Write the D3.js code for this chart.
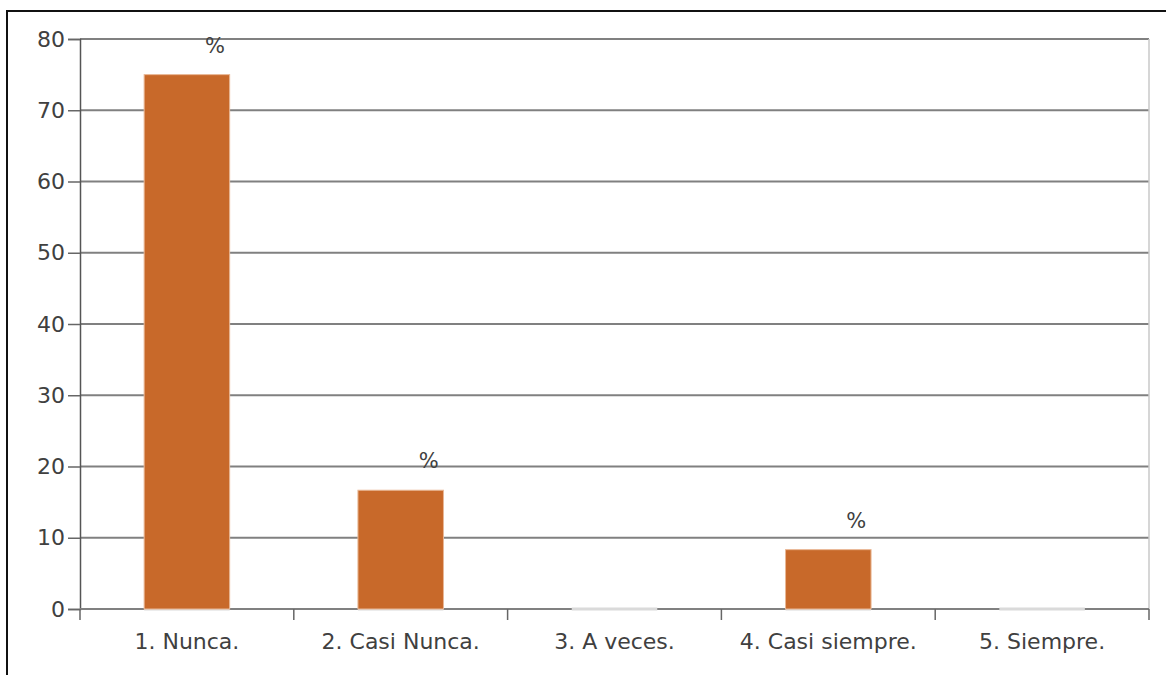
<!DOCTYPE html>
<html>
<head>
<meta charset="utf-8">
<script src="https://cdn.jsdelivr.net/npm/d3@7"></script>
<style>
  html, body { margin: 0; padding: 0; background: #fff; }
  svg text { font-family: "DejaVu Sans", sans-serif; fill: #404040; }
</style>
</head>
<body>
<svg id="chart" width="1166" height="675"></svg>
<script>
// Survey answers (percentage of respondents)
const categories = ["1. Nunca.", "2. Casi Nunca.", "3. A veces.", "4. Casi siempre.", "5. Siempre."];
const percentages = [75, 16.67, 0, 8.33, 0];
const yTicks = [0, 10, 20, 30, 40, 50, 60, 70, 80];
const valueLabel = "%";

const svg = d3.select("#chart");
const W = 1166, H = 675;
const margin = { top: 39, right: 17, bottom: 66, left: 80 };
const innerW = W - margin.left - margin.right;
const innerH = H - margin.top - margin.bottom;

// outer frame (left and top edges)
svg.append("path")
  .attr("d", `M7,${H} L7,11 L${W},11`)
  .attr("fill", "none").attr("stroke", "#111").attr("stroke-width", 2);

const g = svg.append("g").attr("transform", `translate(${margin.left},${margin.top})`);

const x = d3.scaleBand().domain(categories).range([0, innerW]).paddingInner(0.6).paddingOuter(0.3);
const xOuter = d3.scaleBand().domain(categories).range([0, innerW]);
const y = d3.scaleLinear().domain([0, 80]).range([innerH, 0]);

// horizontal gridlines
g.append("g").selectAll("line").data(yTicks.filter(t => t > 0)).join("line")
  .attr("x1", 0).attr("x2", innerW)
  .attr("y1", d => y(d)).attr("y2", d => y(d))
  .attr("stroke", "#808080").attr("stroke-width", 2);

// right border of plot area
g.append("line")
  .attr("x1", innerW).attr("x2", innerW).attr("y1", 0).attr("y2", innerH)
  .attr("stroke", "#c8c8c8").attr("stroke-width", 1.5);

// y axis
const yAxis = d3.axisLeft(y).tickValues(yTicks).tickSize(12).tickPadding(3).tickFormat(d3.format("d"));
const ya = g.append("g").call(yAxis);
ya.select(".domain").attr("stroke", "#555").attr("stroke-width", 1.5);
ya.selectAll(".tick line").attr("stroke", "#666").attr("stroke-width", 1.5);
ya.selectAll("text").style("font-size", "22px").attr("fill", "#404040");

// x axis: ticks on category boundaries
const boundaries = categories.map(c => xOuter(c)).concat([innerW]);
const xa = g.append("g").attr("transform", `translate(0,${innerH})`);
xa.append("line").attr("x1", 0).attr("x2", innerW).attr("stroke", "#808080").attr("stroke-width", 2);
xa.selectAll("line.tk").data(boundaries).join("line").attr("class", "tk")
  .attr("x1", d => d).attr("x2", d => d).attr("y1", 0).attr("y2", 11)
  .attr("stroke", "#666").attr("stroke-width", 1.5);
xa.selectAll("text").data(categories).join("text")
  .attr("x", d => xOuter(d) + xOuter.bandwidth() / 2)
  .attr("y", 40)
  .attr("text-anchor", "middle")
  .style("font-size", "22px")
  .text(d => d);

// bar bases (visible as a light line for empty categories)
g.append("g").selectAll("line").data(categories).join("line")
  .attr("x1", d => x(d)).attr("x2", d => x(d) + x.bandwidth())
  .attr("y1", y(0)).attr("y2", y(0))
  .attr("stroke", "#dadada").attr("stroke-width", 3);

// bars
g.append("g").selectAll("rect").data(percentages).join("rect")
  .attr("x", (d, i) => x(categories[i]))
  .attr("width", x.bandwidth())
  .attr("y", d => y(d))
  .attr("height", d => y(0) - y(d))
  .attr("fill", "#c8692a")
  .attr("stroke", "#e9b896").attr("stroke-width", d => d > 0 ? 1 : 0);

// value labels
g.append("g").selectAll("text").data(percentages.map((v, i) => ({ v, c: categories[i] })).filter(d => d.v > 0)).join("text")
  .attr("x", d => x(d.c) + x.bandwidth() / 2 + 28)
  .attr("y", d => y(d.v) - 22)
  .attr("text-anchor", "middle")
  .style("font-size", "21px")
  .text(valueLabel);
</script>
</body>
</html>
